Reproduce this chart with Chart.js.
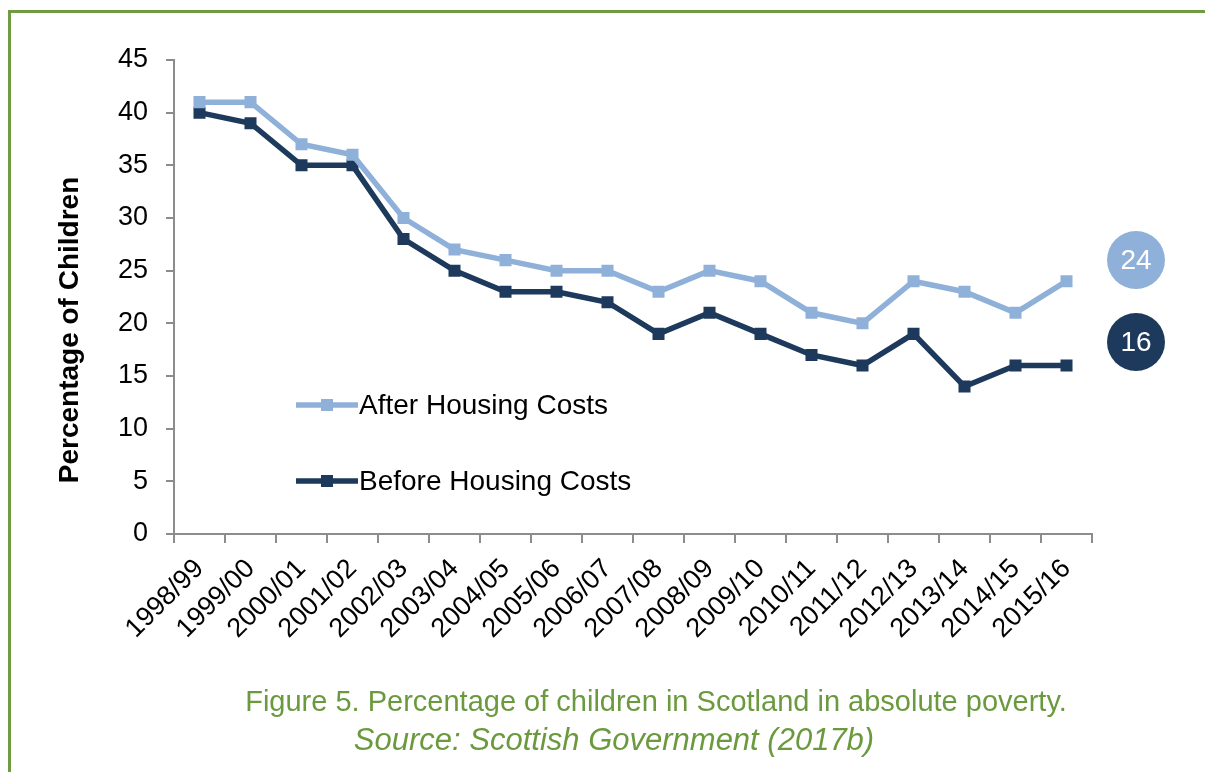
<!DOCTYPE html>
<html>
<head>
<meta charset="utf-8">
<script src="https://cdn.jsdelivr.net/npm/chart.js@4/dist/chart.umd.min.js"></script>
<style>
  html, body { margin: 0; padding: 0; background: #fff; }
  body { width: 1205px; height: 772px; position: relative; overflow: hidden; font-family: "Liberation Sans", Arial, sans-serif; }
  #frame { position: absolute; left: 8px; top: 10px; width: 1300px; height: 900px; border-left: 3px solid #6f9b43; border-top: 3px solid #6f9b43; }
  #wrap { position: absolute; left: 0; top: 0; width: 1205px; height: 772px; }
  .cap { position: absolute; color: #6b9a3e; white-space: nowrap; line-height: 1; transform: translateX(-50%); }
</style>
</head>
<body>
<div id="frame"></div>
<div id="wrap"><canvas id="chart"></canvas></div>
<div class="cap" style="left:656px; top:687px; font-size:29px;">Figure 5. Percentage of children in Scotland in absolute poverty.</div>
<div class="cap" style="left:614px; top:724px; font-size:31px; font-style:italic;">Source: Scottish Government (2017b)</div>
<script>
const years = ["1998/99","1999/00","2000/01","2001/02","2002/03","2003/04","2004/05","2005/06","2006/07",
  "2007/08","2008/09","2009/10","2010/11","2011/12","2012/13","2013/14","2014/15","2015/16"];
const afterHousing = [41, 41, 37, 36, 30, 27, 26, 25, 25, 23, 25, 24, 21, 20, 24, 23, 21, 24];
const beforeHousing = [40, 39, 35, 35, 28, 25, 23, 23, 22, 19, 21, 19, 17, 16, 19, 14, 16, 16];
const yTicks = [0, 5, 10, 15, 20, 25, 30, 35, 40, 45];

const LIGHT = "#8fb1d9";
const DARK = "#1d3a5c";
const FONT = "'Liberation Sans', Arial, sans-serif";

// legend, axis title and end-value badges drawn on the canvas
const extras = {
  id: "extras",
  afterDraw(chart) {
    const ctx = chart.ctx;
    ctx.save();

    // y axis title
    ctx.translate(70, 330);
    ctx.rotate(-Math.PI / 2);
    ctx.font = "bold 28px " + FONT;
    ctx.fillStyle = "#000";
    ctx.textAlign = "center";
    ctx.textBaseline = "middle";
    ctx.fillText("Percentage of Children", 0, 0);
    ctx.setTransform(1, 0, 0, 1, 0, 0);

    // legend
    const items = [
      { label: chart.data.datasets[0].label, color: LIGHT, y: 405 },
      { label: chart.data.datasets[1].label, color: DARK, y: 481 }
    ];
    items.forEach(it => {
      ctx.strokeStyle = it.color;
      ctx.lineWidth = 5.5;
      ctx.beginPath();
      ctx.moveTo(296, it.y);
      ctx.lineTo(358, it.y);
      ctx.stroke();
      ctx.fillStyle = it.color;
      ctx.fillRect(321, it.y - 6, 12, 12);
      ctx.fillStyle = "#000";
      ctx.font = "28px " + FONT;
      ctx.textAlign = "left";
      ctx.textBaseline = "middle";
      ctx.fillText(it.label, 359, it.y + 1);
    });

    // badges with last values
    const badges = [
      { val: afterHousing[afterHousing.length - 1], color: LIGHT, y: 260 },
      { val: beforeHousing[beforeHousing.length - 1], color: DARK, y: 342 }
    ];
    badges.forEach(b => {
      ctx.fillStyle = b.color;
      ctx.beginPath();
      ctx.arc(1136, b.y, 29, 0, Math.PI * 2);
      ctx.fill();
      ctx.fillStyle = "#fff";
      ctx.font = "28px " + FONT;
      ctx.textAlign = "center";
      ctx.textBaseline = "middle";
      ctx.fillText(String(b.val), 1136, b.y + 1);
    });
    ctx.restore();
  }
};

new Chart(document.getElementById("chart"), {
  type: "line",
  data: {
    labels: years,
    datasets: [
      {
        label: "After Housing Costs",
        data: afterHousing,
        borderColor: LIGHT,
        backgroundColor: LIGHT,
        borderWidth: 5.5,
        pointStyle: "rect",
        pointRadius: 8.5,
        pointBorderWidth: 0,
        tension: 0
      },
      {
        label: "Before Housing Costs",
        data: beforeHousing,
        borderColor: DARK,
        backgroundColor: DARK,
        borderWidth: 5.5,
        pointStyle: "rect",
        pointRadius: 8.5,
        pointBorderWidth: 0,
        tension: 0
      }
    ]
  },
  options: {
    responsive: true,
    maintainAspectRatio: false,
    animation: false,
    layout: { padding: { left: 108, top: 60, right: 113, bottom: 0 } },
    plugins: {
      legend: { display: false },
      tooltip: { enabled: false }
    },
    scales: {
      x: {
        offset: true,
        afterFit: (s) => { s.height = 238; },
        border: { color: "#8c8c8c", width: 2 },
        grid: { drawOnChartArea: false, drawTicks: true, tickLength: 9, color: "#8c8c8c", lineWidth: 2, offset: true },
        ticks: {
          color: "#000",
          font: { family: FONT, size: 27 },
          minRotation: 45,
          maxRotation: 45,
          autoSkip: false,
          padding: 10
        }
      },
      y: {
        min: 0,
        max: 45,
        afterFit: (s) => { s.width = 66; },
        afterBuildTicks: (s) => { s.ticks = yTicks.map(v => ({ value: v })); },
        border: { color: "#8c8c8c", width: 2 },
        grid: { drawOnChartArea: false, drawTicks: true, tickLength: 8, color: "#8c8c8c", lineWidth: 2 },
        ticks: {
          color: "#000",
          font: { family: FONT, size: 27 },
          padding: 18
        }
      }
    }
  },
  plugins: [extras]
});
</script>
</body>
</html>
